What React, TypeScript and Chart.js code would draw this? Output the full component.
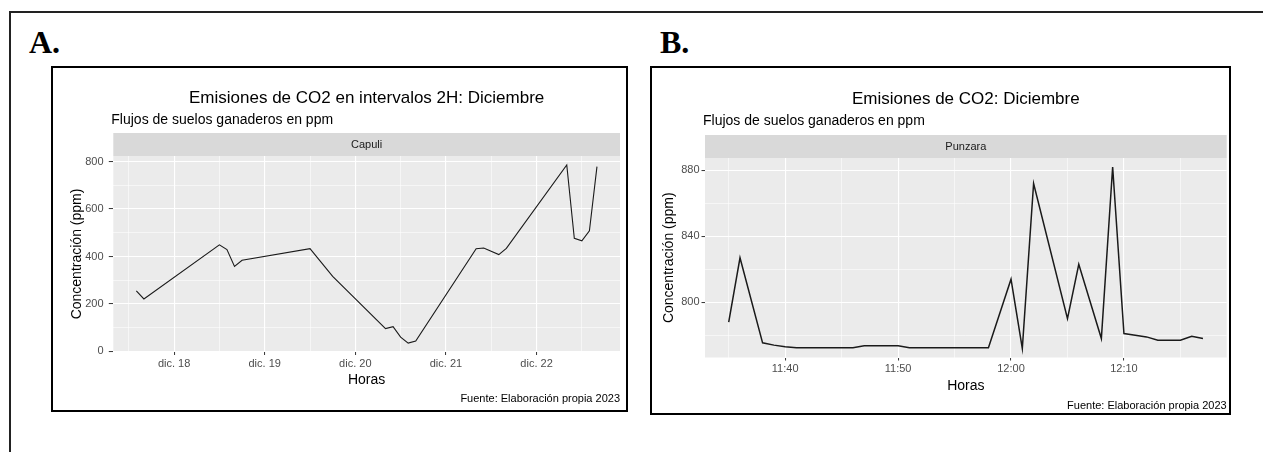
import React, { useEffect, useRef } from 'react';
import { Chart, registerables } from 'chart.js';

Chart.register(...registerables);

const FONT = "'Liberation Sans', Arial, sans-serif";

// ---------- Panel A: Capuli (December, 2H intervals) ----------
const capuliTimes = [
  '17 14:00', '17 16:00',
  '18 12:00', '18 14:00', '18 16:00', '18 18:00',
  '19 12:00', '19 18:00',
  '20 08:00', '20 10:00', '20 12:00', '20 14:00', '20 16:00',
  '21 08:00', '21 10:00', '21 14:00', '21 16:00',
  '22 08:00', '22 10:00', '22 12:00', '22 14:00', '22 16:00',
];
const capuliPpm = [
  255, 221,
  449, 429, 358, 384,
  433, 316,
  96, 104, 60, 35, 44,
  433, 436, 408, 434,
  786, 477, 466, 508, 779,
];
const capuliTickDays = [18, 19, 20, 21, 22];
const capuliTickLabels = ['dic. 18', 'dic. 19', 'dic. 20', 'dic. 21', 'dic. 22'];
const capuliYTicks = [0, 200, 400, 600, 800];

// ---------- Panel B: Punzara (December, per minute) ----------
const punzaraTimes = [
  '11:35', '11:36', '11:38', '11:39', '11:40', '11:41', '11:46', '11:47',
  '11:50', '11:51', '11:58', '12:00', '12:01', '12:02', '12:05', '12:06',
  '12:08', '12:09', '12:10', '12:11', '12:12', '12:13', '12:15', '12:16', '12:17',
];
const punzaraPpm = [
  788, 827, 775.4, 774, 773, 772.4, 772.4, 773.6,
  773.6, 772.4, 772.4, 814, 772, 872, 790, 823,
  778, 882, 781, 780, 779, 777, 777, 779.4, 778,
];
const punzaraTickTimes = ['11:40', '11:50', '12:00', '12:10'];
const punzaraYTicks = [800, 840, 880];

// ---------- helpers ----------
const dayValue = (s: string) => {
  const [d, hm] = s.split(' ');
  const [h, m] = hm.split(':').map(Number);
  return Number(d) + (h + m / 60) / 24;
};
const minuteValue = (s: string) => {
  const [h, m] = s.split(':').map(Number);
  return h * 60 + m;
};
const expand = (vals: number[]) => {
  const mn = Math.min(...vals);
  const mx = Math.max(...vals);
  const d = (mx - mn) * 0.05;
  return [mn - d, mx + d];
};
const withMinors = (major: number[], lo: number, hi: number) => {
  const step = major[1] - major[0];
  const all: number[] = [];
  for (let i = -1; i < major.length; i++) {
    const a = i < 0 ? major[0] - step : major[i];
    if (i >= 0) all.push(a);
    all.push(a + step / 2);
  }
  return all.filter((v) => v >= lo && v <= hi).sort((a, b) => a - b);
};
const isIn = (arr: number[], v: number) => arr.some((m) => Math.abs(m - v) < 1e-6);

const ggPlugin = {
  id: 'gg',
  beforeDraw(chart: any, _args: any, opts: any) {
    const { ctx, chartArea: a } = chart;
    ctx.save();
    ctx.fillStyle = '#EBEBEB';
    ctx.fillRect(a.left, a.top, a.right - a.left, a.bottom - a.top);
    ctx.fillStyle = '#D9D9D9';
    ctx.fillRect(a.left, a.top - opts.stripH, a.right - a.left, opts.stripH);
    const cx = (a.left + a.right) / 2;
    ctx.textBaseline = 'middle';
    ctx.textAlign = 'center';
    ctx.fillStyle = '#1A1A1A';
    ctx.font = `11px ${FONT}`;
    ctx.fillText(opts.strip, cx, a.top - opts.stripH / 2);
    ctx.fillStyle = '#000000';
    ctx.font = `17px ${FONT}`;
    ctx.fillText(opts.title, cx, opts.titleY);
    ctx.textAlign = 'left';
    ctx.font = `14px ${FONT}`;
    ctx.fillText(opts.subtitle, a.left - 2, opts.subtitleY);
    ctx.textAlign = 'right';
    ctx.font = `11px ${FONT}`;
    ctx.fillText(opts.caption, a.right, opts.captionY);
    ctx.restore();
  },
};

type Spec = {
  xs: number[];
  ys: number[];
  xMajor: number[];
  xLabels: string[];
  yMajor: number[];
  title: string;
  subtitle: string;
  strip: string;
  caption: string;
  width: number;
  height: number;
  layout: {
    padTop: number; padRight: number; padBottom: number;
    yAxisW: number; xAxisH: number;
    yTitlePad: number; yTickLen: number; yTickPad: number;
    xTickLen: number; xTickPad: number;
    titleY: number; subtitleY: number; captionY: number; stripH: number;
    lineW: number;
  };
};

function buildConfig(s: Spec): any {
  const [xmin, xmax] = expand(s.xs);
  const [ymin, ymax] = expand(s.ys);
  const xTicks = withMinors(s.xMajor, xmin, xmax);
  const yTicks = withMinors(s.yMajor, ymin, ymax);
  const L = s.layout;
  const gridFor = (major: number[], tl: number) => ({
    color: '#FFFFFF',
    lineWidth: (c: any) => (c.tick && isIn(major, c.tick.value) ? 1.1 : 0.55),
    tickColor: (c: any) => (c.tick && isIn(major, c.tick.value) ? '#333333' : 'rgba(0,0,0,0)'),
    tickWidth: 1,
    tickLength: tl,
    drawTicks: true,
    drawOnChartArea: true,
  });
  return {
    type: 'line',
    data: {
      datasets: [
        {
          data: s.xs.map((x, i) => ({ x, y: s.ys[i] })),
          borderColor: '#1A1A1A',
          borderWidth: L.lineW,
          pointRadius: 0,
          tension: 0,
          fill: false,
        },
      ],
    },
    options: {
      animation: false,
      responsive: false,
      devicePixelRatio: 1,
      layout: { padding: { top: L.padTop, right: L.padRight, bottom: L.padBottom, left: 0 } },
      plugins: {
        legend: { display: false },
        tooltip: { enabled: false },
        gg: {
          title: s.title, subtitle: s.subtitle, strip: s.strip, caption: s.caption,
          titleY: L.titleY, subtitleY: L.subtitleY, captionY: L.captionY, stripH: L.stripH,
        },
      },
      scales: {
        x: {
          type: 'linear',
          min: xmin,
          max: xmax,
          afterBuildTicks: (sc: any) => { sc.ticks = xTicks.map((v) => ({ value: v })); },
          afterFit: (sc: any) => { sc.height = L.xAxisH; },
          ticks: {
            autoSkip: false,
            maxRotation: 0,
            minRotation: 0,
            padding: L.xTickPad,
            color: '#4D4D4D',
            font: { size: 11, family: FONT },
            callback: (v: number) => {
              const i = s.xMajor.findIndex((m) => Math.abs(m - v) < 1e-6);
              return i >= 0 ? s.xLabels[i] : '';
            },
          },
          grid: gridFor(s.xMajor, L.xTickLen),
          border: { display: false },
          title: { display: true, text: 'Horas', color: '#000000', font: { size: 14, family: FONT }, padding: { top: 0, bottom: 0 } },
        },
        y: {
          type: 'linear',
          min: ymin,
          max: ymax,
          afterBuildTicks: (sc: any) => { sc.ticks = yTicks.map((v) => ({ value: v })); },
          afterFit: (sc: any) => { sc.width = L.yAxisW; },
          ticks: {
            autoSkip: false,
            padding: L.yTickPad,
            color: '#4D4D4D',
            font: { size: 11, family: FONT },
            callback: (v: number) => (isIn(s.yMajor, v) ? String(v) : ''),
          },
          grid: gridFor(s.yMajor, L.yTickLen),
          border: { display: false },
          title: { display: true, text: 'Concentración (ppm)', color: '#000000', font: { size: 14, family: FONT }, padding: { top: L.yTitlePad, bottom: 0 } },
        },
      },
    },
    plugins: [ggPlugin],
  };
}

const specA: Spec = {
  xs: capuliTimes.map(dayValue),
  ys: capuliPpm,
  xMajor: capuliTickDays,
  xLabels: capuliTickLabels,
  yMajor: capuliYTicks,
  title: 'Emisiones de CO2 en intervalos 2H: Diciembre',
  subtitle: 'Flujos de suelos ganaderos en ppm',
  strip: 'Capuli',
  caption: 'Fuente: Elaboración propia 2023',
  width: 573,
  height: 342,
  layout: {
    padTop: 88, padRight: 6, padBottom: 21.6,
    yAxisW: 60.3, xAxisH: 36.4,
    yTitlePad: 16.1, yTickLen: 4.5, yTickPad: 5.3,
    xTickLen: 3, xTickPad: 2.2,
    titleY: 30, subtitleY: 52, captionY: 331, stripH: 23,
    lineW: 1.1,
  },
};

const specB: Spec = {
  xs: punzaraTimes.map(minuteValue),
  ys: punzaraPpm,
  xMajor: punzaraTickTimes.map(minuteValue),
  xLabels: punzaraTickTimes,
  yMajor: punzaraYTicks,
  title: 'Emisiones de CO2: Diciembre',
  subtitle: 'Flujos de suelos ganaderos en ppm',
  strip: 'Punzara',
  caption: 'Fuente: Elaboración propia 2023',
  width: 577,
  height: 345,
  layout: {
    padTop: 90, padRight: 2.3, padBottom: 18.6,
    yAxisW: 53, xAxisH: 36.9,
    yTitlePad: 8.4, yTickLen: 3.5, yTickPad: 2,
    xTickLen: 3, xTickPad: 1.5,
    titleY: 31, subtitleY: 53, captionY: 338, stripH: 23,
    lineW: 1.5,
  },
};

function Panel({ spec, left, top }: { spec: Spec; left: number; top: number }) {
  const ref = useRef<HTMLCanvasElement | null>(null);
  useEffect(() => {
    if (!ref.current) return;
    const chart = new Chart(ref.current, buildConfig(spec));
    return () => chart.destroy();
  }, [spec]);
  return (
    <div
      style={{
        position: 'absolute',
        left: left - 2,
        top: top - 2,
        width: spec.width,
        height: spec.height,
        border: '2px solid #000',
        background: '#fff',
      }}
    >
      <canvas ref={ref} width={spec.width} height={spec.height} style={{ display: 'block', width: spec.width, height: spec.height }} />
    </div>
  );
}

const labelStyle: React.CSSProperties = {
  position: 'absolute',
  fontFamily: "'Liberation Serif', 'Times New Roman', serif",
  fontWeight: 'bold',
  fontSize: 32,
  lineHeight: '32px',
  color: '#000',
};

export default function App() {
  return (
    <div style={{ position: 'fixed', left: 0, top: 0, width: 1263, height: 452, background: '#fff', overflow: 'hidden' }}>
      <div style={{ position: 'absolute', left: 9, top: 11, right: 0, bottom: 0, borderTop: '2px solid #222', borderLeft: '2px solid #222' }} />
      <div style={{ ...labelStyle, left: 29, top: 26 }}>A.</div>
      <div style={{ ...labelStyle, left: 660, top: 26 }}>B.</div>
      <Panel spec={specA} left={53} top={68} />
      <Panel spec={specB} left={652} top={68} />
    </div>
  );
}
